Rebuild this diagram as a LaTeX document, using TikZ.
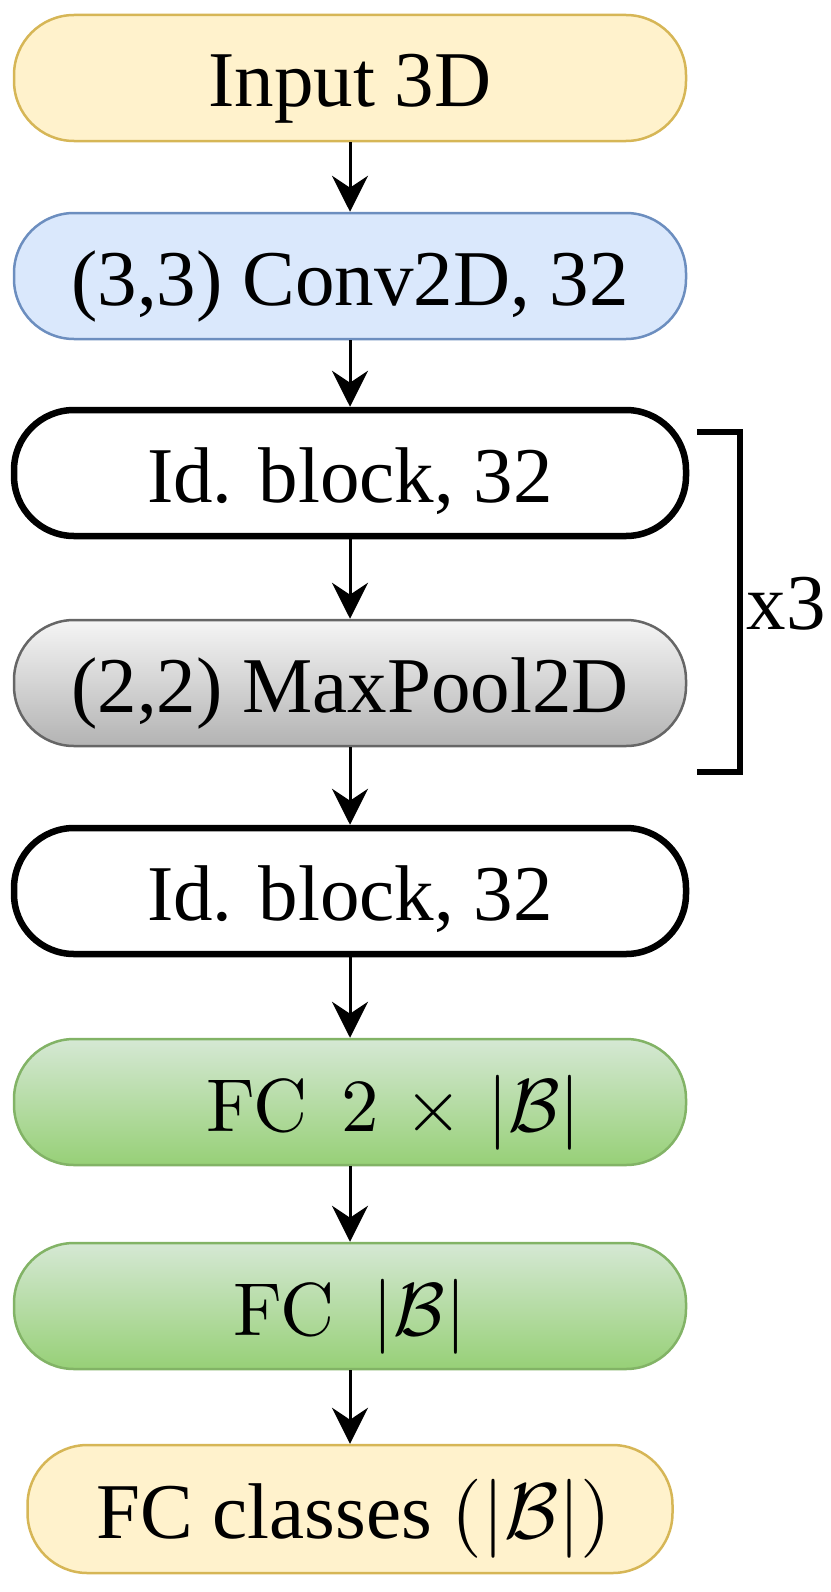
\RequirePackage{fix-cm}
\documentclass[tikz,border=0pt]{standalone}
\usepackage[no-math]{fontspec}
\setmainfont{Liberation Serif}
\DeclareFontShape{OT1}{cmr}{m}{n}{<-> cmr10}{}
\usetikzlibrary{positioning,arrows.meta}

\definecolor{ylwfill}{HTML}{FFF2CC}
\definecolor{ylwline}{HTML}{D6B656}
\definecolor{bluefill}{HTML}{DAE8FC}
\definecolor{blueline}{HTML}{6C8EBF}
\definecolor{grytop}{HTML}{F5F5F5}
\definecolor{grybot}{HTML}{B3B3B3}
\definecolor{gryline}{HTML}{666666}
\definecolor{grntop}{HTML}{D5E8D4}
\definecolor{grnbot}{HTML}{97D077}
\definecolor{grnline}{HTML}{82B366}

\begin{document}
\begin{tikzpicture}[x=1pt,y=1pt,on grid,
      >={Stealth[length=36pt,width=36pt,inset=12pt]},
      stage/.style={rectangle,rounded corners=60pt,minimum width=672pt,
        minimum height=126pt,line width=2.5pt,inner sep=0pt,
        text height=58pt,text depth=0pt,
        font=\fontsize{79pt}{90pt}\selectfont},
      iobox/.style={stage,fill=ylwfill,draw=ylwline},
      convbox/.style={stage,fill=bluefill,draw=blueline},
      idbox/.style={stage,fill=white,draw=black,line width=6.5pt},
      poolbox/.style={stage,top color=grytop,bottom color=grybot,draw=gryline},
      fcbox/.style={stage,top color=grntop,bottom color=grnbot,draw=grnline,
        font=\fontsize{75pt}{86pt}\selectfont},
      flow/.style={->,line width=3pt}]
	\useasboundingbox (0,0) rectangle (830,-1592);
	\node[iobox] (inp) at (350,-78) {Input 3D};
	\node[convbox] (c2d) [below=198pt of inp] {(3,3) Conv2D, 32};
	\node[idbox] (idA) [below=197pt of c2d] {Id. block, 32};
	\node[poolbox] (pool) [below=210pt of idA] {(2,2) MaxPool2D};
	\node[idbox] (idB) [below=208pt of pool] {Id. block, 32};
	\node[fcbox] (fcA) [below=211pt of idB]
	  {\hspace{88pt}$\mathrm{FC}\hspace{34pt}2\mkern2mu\times\mkern2mu|\mathcal{B}|$};
	\node[fcbox] (fcB) [below=204pt of fcA]
	  {$\mathrm{FC}\hspace{38pt}|\mathcal{B}|$\hspace{16pt}};
	\node[iobox,minimum width=645pt,minimum height=128pt] (out) [below=203pt of fcB]
	  {\hspace{8pt}FC classes $(|\mathcal{B}|)$};
	% repeat bracket
	\coordinate (brTL) at (697,-432);
	\coordinate (brTR) at (740,-432);
	\coordinate (brBR) at (740,-772);
	\coordinate (brBL) at (697,-772);
	\draw[line width=6pt] (brTL) -- (brTR) -- (brBR) -- (brBL);
	\node[font=\fontsize{79pt}{90pt}\selectfont] (rep) at (786,-604) {x3};
	\draw[flow] (inp) -- (c2d);
	\draw[flow] (c2d) -- (idA);
	\draw[flow] (idA) -- (pool);
	\draw[flow] (pool) -- (idB);
	\draw[flow] (idB) -- (fcA);
	\draw[flow] (fcA) -- (fcB);
	\draw[flow] (fcB) -- (out);
\end{tikzpicture}
\end{document}
